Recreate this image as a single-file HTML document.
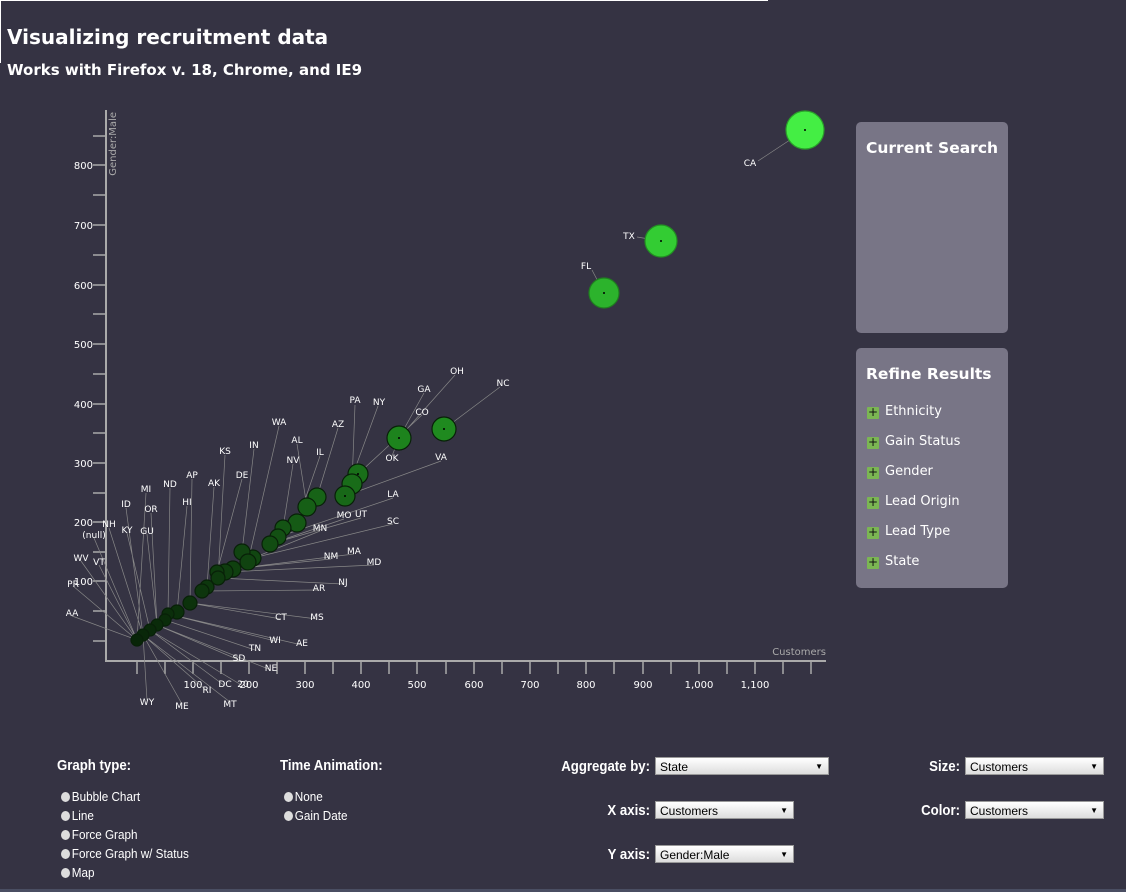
<!DOCTYPE html>
<html><head><meta charset="utf-8"><style>
body{margin:0;width:1126px;height:892px;background:#353343;overflow:hidden;font-family:"DejaVu Sans","Liberation Sans",sans-serif;color:#fff;position:relative}
.t1{position:absolute;left:7px;top:25px;font-size:20px;font-weight:bold}
.t2{position:absolute;left:7px;top:61px;font-size:15px;font-weight:bold}
.panel{position:absolute;left:856px;width:152px;background:#787586;border-radius:5px}
.panel h3{margin:0;position:absolute;left:10px;font-size:15.5px;font-weight:bold;white-space:nowrap}
.item{position:absolute;left:11px;font-size:13px}
.item b{display:inline-block;width:12px;height:12px;background:#7bb653;color:#111;font-size:12px;line-height:11px;text-align:center;margin-right:6px;border-radius:1px;vertical-align:-1px;font-weight:normal}
.r{position:absolute;font-size:13px;font-family:"Liberation Sans",sans-serif;transform:scaleX(0.9);transform-origin:left}
.r i{display:inline-block;width:10px;height:10px;border-radius:50%;background:#ddd;margin-right:2px;vertical-align:-1px}
.sel{position:absolute;height:18px;background:linear-gradient(#fff,#ddd);border:1px solid #999;color:#000;font-size:12px;line-height:18px;padding-left:4px;box-sizing:border-box;font-family:"Liberation Sans",sans-serif}
.sel:after{content:"▼";position:absolute;right:5px;font-size:8px;top:0}
.lab{position:absolute;font-weight:bold;font-size:15px;font-family:"Liberation Sans",sans-serif;text-align:right}
.lab.l{transform:scaleX(0.88);transform-origin:left;text-align:left}
.lab.rt{transform:scaleX(0.88);transform-origin:right}
</style></head><body>
<div style="position:absolute;left:0;top:0;width:768px;height:1px;background:#fff"></div>
<div style="position:absolute;left:0;top:0;width:1px;height:63px;background:#fff"></div>
<div class="t1">Visualizing recruitment data</div>
<div class="t2">Works with Firefox v. 18, Chrome, and IE9</div>
<svg width="1126" height="892" style="position:absolute;left:0;top:0" font-family="DejaVu Sans,Liberation Sans,sans-serif" font-size="10">
<g stroke="#aaa" stroke-width="2" fill="none">
<path d="M106 110V661H826"/>
</g>
<g stroke="#aaa" stroke-width="1.5">
<path d="M93 136h13M93 165h13M93 195h13M93 225h13M93 255h13M93 285h13M93 314h13M93 344h13M93 374h13M93 404h13M93 433h13M93 463h13M93 493h13M93 522h13M93 552h13M93 581h13M93 611h13M93 641h13"/>
<path d="M137 661v13M165 661v13M193 661v13M221 661v13M249 661v13M277 661v13M305 661v13M333 661v13M361 661v13M389 661v13M417 661v13M446 661v13M474 661v13M502 661v13M530 661v13M558 661v13M586 661v13M614 661v13M643 661v13M671 661v13M699 661v13M727 661v13M755 661v13M783 661v13M811 661v13"/>
</g>
<g fill="#fff" text-anchor="end">
<text x="93" y="169">800</text><text x="93" y="229">700</text><text x="93" y="289">600</text><text x="93" y="348">500</text><text x="93" y="408">400</text><text x="93" y="467">300</text><text x="93" y="526">200</text><text x="93" y="585">100</text>
</g>
<g fill="#fff" text-anchor="middle">
<text x="193" y="688">100</text><text x="249" y="688">200</text><text x="305" y="688">300</text><text x="361" y="688">400</text><text x="417" y="688">500</text><text x="474" y="688">600</text><text x="530" y="688">700</text><text x="586" y="688">800</text><text x="643" y="688">900</text><text x="699" y="688">1,000</text><text x="755" y="688">1,100</text>
</g>
<text x="826" y="655" fill="#aaa" text-anchor="end" font-size="10">Customers</text>
<text transform="translate(116,112) rotate(-90)" fill="#aaa" text-anchor="end" font-size="10">Gender:Male</text>
<g stroke="#888" stroke-width="0.7">
<path d="M805 130L758 161M661 241L637 237M604 293L592 270M444 429L500 387M399 438L455 375M399 438L424 393M358 474L422 415M352 484L355 405M345 496L378 406M317 497L338 428M248 562L279 426M307 507L297 444M242 552L254 449M297 523L320 456M283 528L293 464M218 578L225 455M399 438L392 456M345 496L441 461M217 572L242 479M190 603L192 479M207 587L214 487M168 614L170 488M137 640L146 493M177 612L187 506M278 537L393 498M143 635L126 508M157 625L151 513M270 544L344 519M270 544L361 518M253 558L393 524M143 635L109 528M150 630L127 533M157 625L147 534M253 558L320 531M137 640L94 538M137 640L81 561M137 640L99 565M233 569L331 559M233 569L354 554M225 572L374 565M137 640L73 586M218 578L343 584M202 591L319 590M137 640L72 616M190 603L281 619M190 603L317 619M168 614L275 641M168 614L302 645M165 620L255 650M157 625L239 660M157 625L271 670M150 630L225 686M150 630L243 686M143 635L207 691M143 635L147 700M143 635L182 704M143 635L230 702"/>
</g>
<g stroke-width="1.2">
<circle cx="805" cy="130" r="19" fill="#44ee44" stroke="#2aa02a"/>
<circle cx="661" cy="241" r="16" fill="#33cc33" stroke="#229022"/>
<circle cx="604" cy="293" r="15" fill="#2cb32c" stroke="#1f7f1f"/>
</g>
<g stroke="#082008" stroke-width="1.2">
<circle cx="444" cy="429" r="12" fill="#1f8a1f"/>
<circle cx="399" cy="438" r="12" fill="#1d831d"/>
<circle cx="358" cy="474" r="10" fill="#196f19"/>
<circle cx="352" cy="484" r="10" fill="#196c19"/>
<circle cx="345" cy="496" r="10" fill="#186818"/>
<circle cx="317" cy="497" r="9" fill="#176317"/>
<circle cx="307" cy="507" r="9" fill="#165f16"/>
<circle cx="297" cy="523" r="9" fill="#155a15"/>
<circle cx="283" cy="528" r="8" fill="#145414"/>
<circle cx="278" cy="537" r="8" fill="#135013"/>
<circle cx="270" cy="544" r="8" fill="#124c12"/>
<circle cx="253" cy="558" r="8" fill="#114611"/>
<circle cx="242" cy="552" r="8" fill="#114411"/>
<circle cx="248" cy="562" r="8" fill="#104310"/>
<circle cx="233" cy="569" r="8" fill="#0f400f"/>
<circle cx="225" cy="572" r="8" fill="#0f3d0f"/>
<circle cx="217" cy="572" r="7" fill="#0e3b0e"/>
<circle cx="218" cy="578" r="7" fill="#0e3a0e"/>
<circle cx="207" cy="587" r="7" fill="#0d370d"/>
<circle cx="202" cy="591" r="7" fill="#0d350d"/>
<circle cx="190" cy="603" r="7" fill="#0c320c"/>
<circle cx="177" cy="612" r="7" fill="#0b300b"/>
<circle cx="168" cy="614" r="6" fill="#0b2e0b"/>
<circle cx="165" cy="620" r="6" fill="#0a2c0a"/>
<circle cx="157" cy="625" r="6" fill="#0a2b0a"/>
<circle cx="150" cy="630" r="6" fill="#092909"/>
<circle cx="143" cy="635" r="6" fill="#092709"/>
<circle cx="137" cy="640" r="6" fill="#082508"/>
</g>
<g fill="#000">
<circle cx="805" cy="130" r="1"/><circle cx="661" cy="241" r="1"/><circle cx="604" cy="293" r="1"/><circle cx="444" cy="429" r="1"/><circle cx="399" cy="438" r="1"/><circle cx="358" cy="474" r="1"/><circle cx="345" cy="496" r="1"/>
</g>
<g fill="#fff" font-size="9" text-anchor="middle">
<text x="750" y="166">CA</text><text x="629" y="239">TX</text><text x="586" y="269">FL</text><text x="457" y="374">OH</text><text x="503" y="386">NC</text><text x="424" y="392">GA</text><text x="422" y="415">CO</text><text x="355" y="403">PA</text><text x="379" y="405">NY</text><text x="338" y="427">AZ</text><text x="279" y="425">WA</text><text x="297" y="443">AL</text><text x="254" y="448">IN</text><text x="320" y="455">IL</text><text x="293" y="463">NV</text><text x="225" y="454">KS</text><text x="392" y="461">OK</text><text x="441" y="460">VA</text><text x="242" y="478">DE</text><text x="192" y="478">AP</text><text x="214" y="486">AK</text><text x="170" y="487">ND</text><text x="146" y="492">MI</text><text x="187" y="505">HI</text><text x="393" y="497">LA</text><text x="126" y="507">ID</text><text x="151" y="512">OR</text><text x="344" y="518">MO</text><text x="361" y="517">UT</text><text x="393" y="524">SC</text><text x="109" y="527">NH</text><text x="127" y="533">KY</text><text x="147" y="534">GU</text><text x="320" y="531">MN</text><text x="94" y="538">(null)</text><text x="81" y="561">WV</text><text x="99" y="565">VT</text><text x="331" y="559">NM</text><text x="354" y="554">MA</text><text x="374" y="565">MD</text><text x="73" y="587">PR</text><text x="343" y="585">NJ</text><text x="319" y="591">AR</text><text x="72" y="616">AA</text><text x="281" y="620">CT</text><text x="317" y="620">MS</text><text x="275" y="643">WI</text><text x="302" y="646">AE</text><text x="255" y="651">TN</text><text x="239" y="661">SD</text><text x="271" y="671">NE</text><text x="225" y="687">DC</text><text x="243" y="687">20</text><text x="207" y="693">RI</text><text x="147" y="705">WY</text><text x="182" y="709">ME</text><text x="230" y="707">MT</text>
</g>
</svg>
<div class="panel" style="top:122px;height:211px"><h3 style="top:17px">Current Search</h3></div>
<div class="panel" style="top:348px;height:240px"><h3 style="top:17px">Refine Results</h3>
<div class="item" style="top:56px"><b>+</b>Ethnicity</div>
<div class="item" style="top:86px"><b>+</b>Gain Status</div>
<div class="item" style="top:116px"><b>+</b>Gender</div>
<div class="item" style="top:146px"><b>+</b>Lead Origin</div>
<div class="item" style="top:176px"><b>+</b>Lead Type</div>
<div class="item" style="top:206px"><b>+</b>State</div>
</div>
<div class="lab l" style="left:57px;top:757px">Graph type:</div>
<div class="r" style="left:61px;top:789px"><i></i>Bubble Chart</div>
<div class="r" style="left:61px;top:808px"><i></i>Line</div>
<div class="r" style="left:61px;top:827px"><i></i>Force Graph</div>
<div class="r" style="left:61px;top:846px"><i></i>Force Graph w/ Status</div>
<div class="r" style="left:61px;top:865px"><i></i>Map</div>
<div class="lab l" style="left:280px;top:757px">Time Animation:</div>
<div class="r" style="left:284px;top:789px"><i></i>None</div>
<div class="r" style="left:284px;top:808px"><i></i>Gain Date</div>
<div class="lab rt" style="left:500px;width:150px;top:758px">Aggregate by:</div>
<div class="sel" style="left:655px;top:757px;width:174px">State</div>
<div class="lab rt" style="left:500px;width:150px;top:802px">X axis:</div>
<div class="sel" style="left:655px;top:801px;width:139px">Customers</div>
<div class="lab rt" style="left:500px;width:150px;top:846px">Y axis:</div>
<div class="sel" style="left:655px;top:845px;width:139px">Gender:Male</div>
<div class="lab rt" style="left:860px;width:100px;top:758px">Size:</div>
<div class="sel" style="left:965px;top:757px;width:139px">Customers</div>
<div class="lab rt" style="left:860px;width:100px;top:802px">Color:</div>
<div class="sel" style="left:965px;top:801px;width:139px">Customers</div>
<div style="position:absolute;left:0;top:889px;width:1126px;height:3px;background:#4a4e62"></div>
</body></html>
